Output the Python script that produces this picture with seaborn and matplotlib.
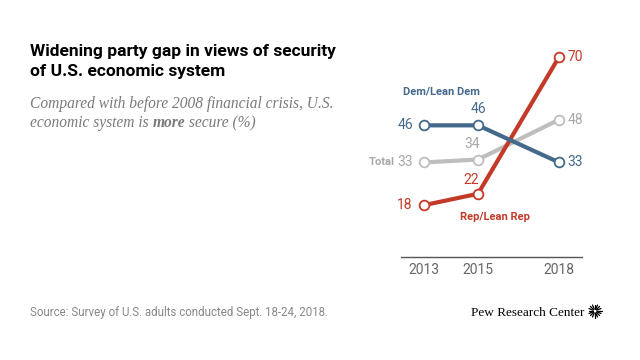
import numpy as np
import pandas as pd
import seaborn as sns
import matplotlib.pyplot as plt
from matplotlib.lines import Line2D

# data
years = [2013, 2015, 2018]
dem = [46, 46, 33]
rep = [18, 22, 70]
total = [33, 34, 48]

groups = ['Total', 'Rep/Lean Rep', 'Dem/Lean Dem']
colors = {'Total': '#BEBEBE', 'Rep/Lean Rep': '#C33A28', 'Dem/Lean Dem': '#44698A'}

df = pd.DataFrame({
    'year': years * 3,
    'value': total + rep + dem,
    'group': ['Total'] * 3 + ['Rep/Lean Rep'] * 3 + ['Dem/Lean Dem'] * 3,
})

sns.set_style('white')
fig = plt.figure(figsize=(6.4, 3.6), dpi=100)
ax = fig.add_axes([0.6266, 0.2875, 0.2828, 0.594])

sns.lineplot(data=df, x='year', y='value', hue='group', hue_order=groups,
             palette=colors, ax=ax, legend=False, linewidth=3,
             marker='o', markersize=7, markerfacecolor='white',
             markeredgewidth=1.3)
# marker edges in series colour
for line, g in zip(ax.lines, groups):
    line.set_markeredgecolor(colors[g])
    line.set_zorder({'Total': 2, 'Rep/Lean Rep': 3, 'Dem/Lean Dem': 4}[g])

ax.set_xlim(2012.15, 2018.85)
ax.set_ylim(0, 75)
ax.set_xticks(years)
ax.set_xticklabels([str(y) for y in years])
ax.set_yticks([])
ax.set_xlabel('')
ax.set_ylabel('')
for s in ['top', 'right', 'left']:
    ax.spines[s].set_visible(False)
ax.spines['bottom'].set_color('#555555')
ax.spines['bottom'].set_linewidth(1)
ax.tick_params(axis='x', length=0, labelsize=10, colors='#666666', pad=5)
for lab in ax.get_xticklabels():
    lab.set_family('Roboto')

fs = 10
num_kw = dict(textcoords='offset points', fontsize=fs, family='Roboto')
# value labels
ax.annotate(str(dem[0]), (years[0], dem[0]), xytext=(-8, 0), ha='right', va='center',
            color=colors['Dem/Lean Dem'], **num_kw)
ax.annotate(str(dem[1]), (years[1], dem[1]), xytext=(0, 7), ha='center', va='bottom',
            color=colors['Dem/Lean Dem'], **num_kw)
ax.annotate(str(dem[2]), (years[2], dem[2]), xytext=(6, 0), ha='left', va='center',
            color=colors['Dem/Lean Dem'], **num_kw)
ax.annotate(str(total[0]), (years[0], total[0]), xytext=(-8, 0), ha='right', va='center',
            color='#A8A8A8', **num_kw)
ax.annotate(str(total[1]), (years[1], total[1]), xytext=(-4, 6), ha='center', va='bottom',
            color='#A8A8A8', **num_kw)
ax.annotate(str(total[2]), (years[2], total[2]), xytext=(6, 0), ha='left', va='center',
            color='#A8A8A8', **num_kw)
ax.annotate(str(rep[0]), (years[0], rep[0]), xytext=(-8, 0), ha='right', va='center',
            color=colors['Rep/Lean Rep'], **num_kw)
ax.annotate(str(rep[1]), (years[1], rep[1]), xytext=(-5, 5), ha='center', va='bottom',
            color=colors['Rep/Lean Rep'], **num_kw)
ax.annotate(str(rep[2]), (years[2], rep[2]), xytext=(6, 0), ha='left', va='center',
            color=colors['Rep/Lean Rep'], **num_kw)

# series names
name_kw = dict(textcoords='offset points', fontsize=8, fontweight='bold', family='Roboto')
ax.annotate('Dem/Lean Dem', (years[0], dem[0]), xytext=(-15, 21), ha='left', va='bottom',
            color=colors['Dem/Lean Dem'], **name_kw)
ax.annotate('Rep/Lean Rep', (years[1], rep[1]), xytext=(-13, -13), ha='left', va='top',
            color=colors['Rep/Lean Rep'], **name_kw)
ax.annotate('Total', (years[0], total[0]), xytext=(-21, 0), ha='right', va='center',
            color='#A8A8A8', **name_kw)

# title and subtitle
fig.text(30 / 640, 1 - 44 / 360, 'Widening party gap in views of security\nof U.S. economic system',
         ha='left', va='top', fontsize=12.5, fontweight='bold', color='black',
         family='Roboto', linespacing=1.4)
sub_kw = dict(fontsize=11.2, color='#7A7A7A', style='italic', family='Liberation Serif')
fig.text(30 / 640, 1 - 108 / 360, 'Compared with before 2008 financial crisis, U.S.',
         ha='left', va='baseline', **sub_kw)
t1 = fig.text(30 / 640, 1 - 127 / 360, 'economic system is ', ha='left', va='baseline', **sub_kw)
t2 = ax.annotate('more', xy=(1, 0), xycoords=t1, ha='left', va='bottom',
                 fontweight='bold', **sub_kw)
ax.annotate(' secure (%)', xy=(1, 0), xycoords=t2, ha='left', va='bottom', **sub_kw)

# footer
fig.text(30 / 640, 1 - 316 / 360, 'Source: Survey of U.S. adults conducted Sept. 18-24, 2018.',
         ha='left', va='baseline', fontsize=8.3, color='#888888', family='Roboto')
fig.text(584 / 640, 1 - 316 / 360, 'Pew Research Center', ha='right', va='baseline',
         fontsize=9.5, color='black', family='Liberation Serif')

# logo sunburst
cx, cy = 595, 311
for a in np.linspace(0, 2 * np.pi, 16, endpoint=False):
    x0, y0 = cx + 2 * np.cos(a), cy + 2 * np.sin(a)
    x1, y1 = cx + 6.5 * np.cos(a), cy + 6.5 * np.sin(a)
    fig.add_artist(Line2D([x0 / 640, x1 / 640], [1 - y0 / 360, 1 - y1 / 360],
                          color='black', linewidth=0.9, transform=fig.transFigure))

fig.savefig('out.png', dpi=100, facecolor='white')
